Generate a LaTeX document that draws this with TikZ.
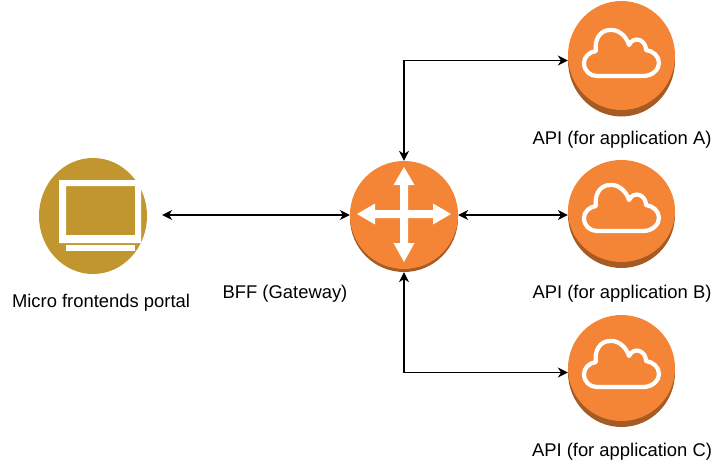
\documentclass[tikz,border=0pt]{standalone}
\usepackage{fontspec}
\setmainfont{Liberation Sans}
\usetikzlibrary{arrows.meta,shapes.geometric}
\definecolor{awsorange}{HTML}{F58536}
\definecolor{awsshade}{HTML}{A65A24}
\definecolor{portalgold}{HTML}{C2962E}
\tikzset{
  x=1pt,y=-1pt,
  disc/.style={ellipse,inner sep=0pt,minimum width=107pt,minimum height=#1,fill=awsorange},
  discshade/.style={ellipse,inner sep=0pt,minimum width=107pt,minimum height=#1,fill=awsshade},
  link/.style={line width=1.2pt,black,{Stealth[length=10pt,width=10pt]}-{Stealth[length=10pt,width=10pt]}},
  lbl/.style={inner sep=0pt,font=\fontsize{18.4}{20}\selectfont,text=black},
  cloudline/.style={draw=white,line width=4.2pt,line join=round},
}
\newcommand{\cloudat}[1]{%
  \draw[cloudline,shift={(#1)}]
    (-25,19) -- (21,19)
    .. controls (31,19) and (37,12) .. (37,6)
    .. controls (37,-1) and (31,-6) .. (24,-7)
    .. controls (24,-17) and (12,-22) .. (7,-12)
    .. controls (4,-22) and (-5,-28) .. (-12,-27)
    .. controls (-22,-27) and (-28,-17) .. (-26,-6)
    .. controls (-33,-5) and (-38,0) .. (-38,6)
    .. controls (-38,14) and (-32,19) .. (-25,19) -- cycle;}
\begin{document}
\begin{tikzpicture}
\useasboundingbox (0,0) rectangle (715,460);
% API discs
\node[discshade=112pt] (aS) at (621.5,60.5) {};
\node[disc=109pt] (a) at (621.5,55.5) {};
\node[discshade=106pt] (bS) at (621.5,215) {};
\node[disc=102pt] (b) at (621.5,211) {};
\node[discshade=109pt] (cS) at (621.5,372.5) {};
\node[disc=106pt] (c) at (621.5,368) {};
\cloudat{622,57}
\cloudat{622,212}
\cloudat{622,368}
% router
\node[discshade=108pt,minimum width=108pt] (rS) at (404,218) {};
\node[disc=108pt,minimum width=108pt] (r) at (404,215) {};
\fill[white,shift={(404,214)}]
  (0,-47) -- (10.5,-29) -- (4,-29) -- (4,-4) -- (29,-4) -- (29,-10.5) -- (47,0)
  -- (29,10.5) -- (29,4) -- (4,4) -- (4,29) -- (10.5,29) -- (0,48)
  -- (-10.5,29) -- (-4,29) -- (-4,4) -- (-29,4) -- (-29,10.5) -- (-47,0)
  -- (-29,-10.5) -- (-29,-4) -- (-4,-4) -- (-4,-29) -- (-10.5,-29) -- cycle;
% portal
\node[ellipse,inner sep=0pt,minimum width=108pt,minimum height=116pt,fill=portalgold] (p) at (93,216) {};
\fill[white,even odd rule] (59,180) rectangle (141,243) (66,186) rectangle (135,235);
\fill[white] (66,245) rectangle (135,251);
% connectors
\draw[link] ([xshift=15pt,yshift=1pt]p.east) -- (r.west);
\draw[link] (r.east) -- (bS.west);
\draw[link] (r.north) |- (aS.west);
\draw[link] (rS.south) |- (cS.west);
% labels
\node[lbl] (pl) at (101,303) {Micro frontends portal};
\node[lbl] (rl) at (285,294) {BFF (Gateway)};
\node[lbl] (al) at (622,139.5) {API (for application A)};
\node[lbl] (bl) at (622,293.5) {API (for application B)};
\node[lbl] (cl) at (622,451.5) {API (for application C)};
\end{tikzpicture}
\end{document}
